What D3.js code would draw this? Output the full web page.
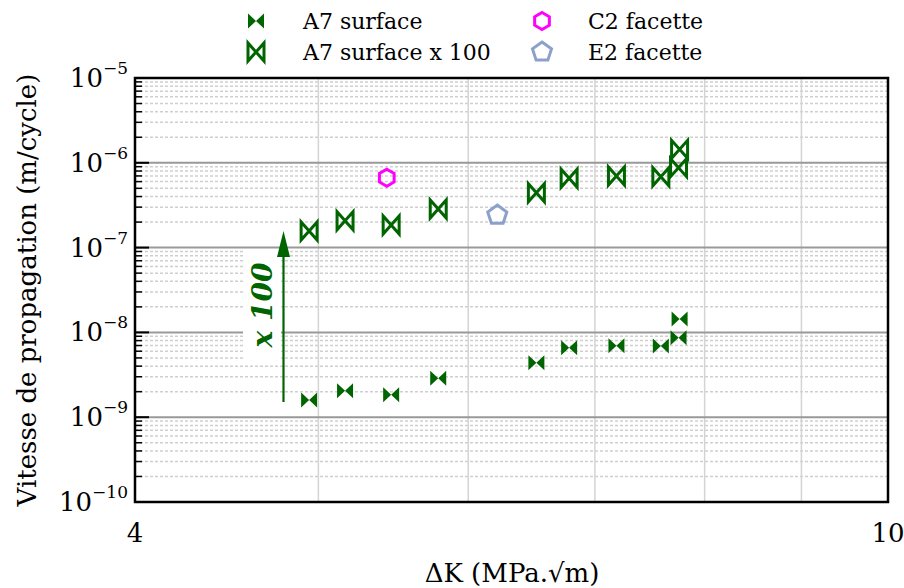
<!DOCTYPE html>
<meta charset="utf-8">
<style>
  html, body { margin: 0; padding: 0; background: #fff; }
  svg { display: block; font-family: "DejaVu Serif", "Liberation Serif", serif; }
</style>
<svg id="chart" width="904" height="588"></svg>
<script src="https://cdn.jsdelivr.net/npm/d3@7"></script>
<script>
  // values
  const deltaK = [4.944, 5.165, 5.463, 5.785, 6.519, 6.784, 7.186, 7.585, 7.75, 7.76];
  const a7Surface = [1.595e-9, 2.05e-9, 1.84e-9, 2.88e-9, 4.39e-9, 6.6e-9, 6.97e-9, 6.9e-9, 8.66e-9, 1.44e-8];
  const a7Surface100 = [1.57e-7, 2.07e-7, 1.85e-7, 2.85e-7, 4.44e-7, 6.57e-7, 6.99e-7, 6.86e-7, 8.76e-7, 1.44e-6];
  const c2K = [5.434], c2Rate = [6.67e-7];
  const e2K = [6.216], e2Rate = [2.42e-7];
  const xTicks = [4, 10];
  const xGrid = [5, 6, 7, 8, 9];
  const yExponents = [-5, -6, -7, -8, -9, -10];

  const green = "#006400", magenta = "#ff00ff", blue = "#8da0cb";

  const svg = d3.select("#chart");
  const pLeft = 135, pTop = 78, pRight = 888, pBottom = 502;

  const x = d3.scaleLog().domain([4, 10]).range([pLeft, pRight]);
  const y = d3.scaleLog().domain([1e-10, 1e-5]).range([pBottom, pTop]);

  // marker paths
  const bowFilled = "M-8,-7.5L0,0L-8,7.5Z M8,-7.5L0,0L8,7.5Z";
  const bowOpen = "M-8,-9L-8,9L8,-9L8,9Z";
  function poly(n, r) {
    const pts = d3.range(n).map(i => {
      const a = -Math.PI / 2 + i * 2 * Math.PI / n;
      return [r * Math.cos(a), r * Math.sin(a)];
    });
    return "M" + pts.map(p => p.join(",")).join("L") + "Z";
  }
  const hexPath = poly(6, 8.5);
  const pentPath = poly(5, 10);

  // grid
  const grid = svg.append("g");
  const minor = [];
  for (let e = -10; e < -5; e++) for (let k = 2; k <= 9; k++) minor.push(k * Math.pow(10, e));
  grid.selectAll(".minor").data(minor).join("line")
    .attr("x1", pLeft).attr("x2", pRight)
    .attr("y1", d => y(d)).attr("y2", d => y(d))
    .attr("stroke", "#cfcfcf").attr("stroke-width", 1.5).attr("stroke-dasharray", "3,2");
  grid.selectAll(".vgrid").data(xGrid).join("line")
    .attr("x1", d => x(d)).attr("x2", d => x(d))
    .attr("y1", pTop).attr("y2", pBottom)
    .attr("stroke", "#d4d4d4").attr("stroke-width", 1.5);
  grid.selectAll(".major").data(yExponents.filter(e => e > -10 && e < -5)).join("line")
    .attr("x1", pLeft).attr("x2", pRight)
    .attr("y1", d => y(Math.pow(10, d))).attr("y2", d => y(Math.pow(10, d)))
    .attr("stroke", "#999").attr("stroke-width", 2);

  // inward ticks on the left axis
  svg.append("g").selectAll("line").data(minor).join("line")
    .attr("x1", pLeft).attr("x2", pLeft + 7)
    .attr("y1", d => y(d)).attr("y2", d => y(d))
    .attr("stroke", "#000").attr("stroke-width", 1.5);
  svg.append("g").selectAll("line").data(yExponents).join("line")
    .attr("x1", pLeft).attr("x2", pLeft + 14)
    .attr("y1", d => y(Math.pow(10, d))).attr("y2", d => y(Math.pow(10, d)))
    .attr("stroke", "#000").attr("stroke-width", 2);

  // frame
  svg.append("rect").attr("x", pLeft).attr("y", pTop)
    .attr("width", pRight - pLeft).attr("height", pBottom - pTop)
    .attr("fill", "none").attr("stroke", "#000").attr("stroke-width", 2.5);

  // y tick labels
  const yl = svg.append("g").selectAll("text").data(yExponents).join("text")
    .attr("x", 128).attr("y", d => y(Math.pow(10, d)) + 9)
    .attr("text-anchor", "end").attr("font-size", 26).attr("fill", "#000");
  yl.append("tspan").text("10");
  yl.append("tspan").attr("dy", -13).attr("font-size", 17).text(d => "\u2212" + (-d));

  // x tick labels
  svg.append("g").selectAll("text").data(xTicks).join("text")
    .attr("x", d => x(d)).attr("y", 542)
    .attr("text-anchor", "middle").attr("font-size", 26).text(d => d);

  // axis titles
  svg.append("text").attr("x", 512).attr("y", 582)
    .attr("text-anchor", "middle").attr("font-size", 26).text("\u0394K (MPa.\u221Am)");
  svg.append("text").attr("transform", "translate(36,290) rotate(-90)")
    .attr("text-anchor", "middle").attr("font-size", 26).text("Vitesse de propagation (m/cycle)");

  // x 100 annotation
  const ann = svg.append("g");
  ann.append("rect").attr("x", 243).attr("y", 249).attr("width", 38).attr("height", 116).attr("fill", "#fff");
  ann.append("text").attr("transform", "translate(272,305) rotate(-90)")
    .attr("text-anchor", "middle").attr("font-size", 28).attr("font-weight", "bold")
    .attr("font-style", "italic").attr("fill", green).text("x 100");
  ann.append("line").attr("x1", 283.5).attr("x2", 283.5).attr("y1", 402).attr("y2", 250)
    .attr("stroke", green).attr("stroke-width", 2.2);
  ann.append("path").attr("d", "M283.5,231L290,257L277,257Z").attr("fill", green);

  // data
  const pts = svg.append("g");
  pts.selectAll(".a7").data(deltaK).join("path")
    .attr("transform", (d, i) => `translate(${x(d)},${y(a7Surface[i])})`)
    .attr("d", bowFilled).attr("fill", green);
  pts.selectAll(".a7x").data(deltaK).join("path")
    .attr("transform", (d, i) => `translate(${x(d)},${y(a7Surface100[i])})`)
    .attr("d", bowOpen).attr("fill", "none").attr("stroke", green).attr("stroke-width", 3);
  pts.selectAll(".c2").data(c2K).join("path")
    .attr("transform", (d, i) => `translate(${x(d)},${y(c2Rate[i])})`)
    .attr("d", hexPath).attr("fill", "none").attr("stroke", magenta).attr("stroke-width", 3);
  pts.selectAll(".e2").data(e2K).join("path")
    .attr("transform", (d, i) => `translate(${x(d)},${y(e2Rate[i])})`)
    .attr("d", pentPath).attr("fill", "none").attr("stroke", blue).attr("stroke-width", 3);

  // legend
  const legend = [
    { label: "A7 surface", d: bowFilled, fill: green, stroke: "none", cx: 256, cy: 21 },
    { label: "A7 surface x 100", d: bowOpen, fill: "none", stroke: green, cx: 256, cy: 52 },
    { label: "C2 facette", d: hexPath, fill: "none", stroke: magenta, cx: 542, cy: 21 },
    { label: "E2 facette", d: pentPath, fill: "none", stroke: blue, cx: 542, cy: 52 }
  ];
  const lg = svg.append("g").selectAll("g").data(legend).join("g");
  lg.append("path").attr("transform", d => `translate(${d.cx},${d.cy})`)
    .attr("d", d => d.d).attr("fill", d => d.fill).attr("stroke", d => d.stroke).attr("stroke-width", 3);
  lg.append("text").attr("x", d => d.cx + (d.cx < 400 ? 47 : 46)).attr("y", d => d.cy + 8)
    .attr("font-size", 22).text(d => d.label);
</script>
